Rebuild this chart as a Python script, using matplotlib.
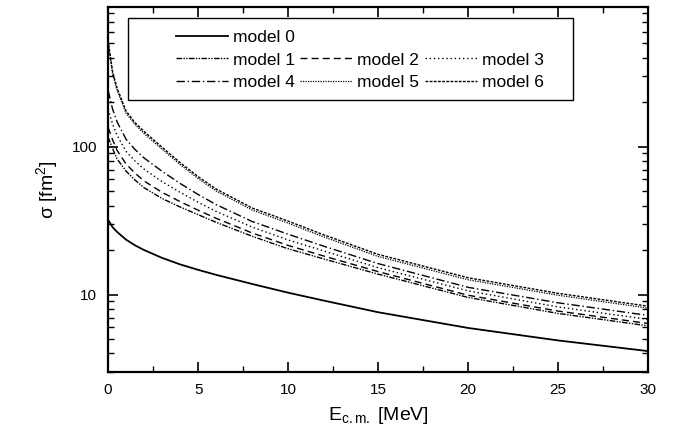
import numpy as np
import matplotlib
matplotlib.use("Agg")
import matplotlib.pyplot as plt
from matplotlib.lines import Line2D
from matplotlib.patches import Rectangle

plt.rcParams['font.family'] = ['Liberation Sans', 'DejaVu Sans']
plt.rcParams['mathtext.fontset'] = 'custom'
plt.rcParams['mathtext.rm'] = 'Liberation Sans'
plt.rcParams['mathtext.it'] = 'Liberation Sans:italic'

# energy grid (MeV)
energy = [0, 0.25, 0.5, 1, 1.5, 2, 3, 4, 5, 6, 8, 10, 12, 15, 20, 25, 30]

# cross sections (fm^2)
model0 = [32, 28.5, 26.5, 23.5, 21.5, 20, 17.7, 16.0, 14.7, 13.6, 11.8, 10.3, 9.1, 7.6, 5.95, 4.9, 4.15]
model1 = [116, 97, 82.5, 68.2, 59.4, 52.8, 44.6, 39.1, 34.7, 30.8, 24.8, 20.4, 17.4, 13.75, 9.57, 7.46, 6.15]
model2 = [135, 111, 94.2, 76.3, 66.1, 58.6, 49.1, 42.5, 37.2, 32.8, 26.1, 21.5, 18.2, 14.3, 9.9, 7.74, 6.38]
model3 = [179, 142, 119, 92.8, 79.8, 70.4, 58, 49.1, 42.1, 36.5, 28.6, 23.4, 19.7, 15.2, 10.6, 8.25, 6.8]
model4 = [240, 179, 147, 112, 95.5, 83.8, 68.1, 56.4, 47.5, 40.6, 31.2, 25.6, 21.2, 16.2, 11.2, 8.8, 7.23]
model5 = [505, 310, 240, 168, 141, 122.5, 96, 75.7, 60.8, 50.2, 37.3, 30.4, 24.5, 18.1, 12.6, 9.9, 8.1]
model6 = [520, 320, 248, 174, 145, 126.5, 99, 78, 62.7, 51.7, 38.5, 31.4, 25.3, 18.7, 13.0, 10.2, 8.35]

labels = ['model 0', 'model 1', 'model 2', 'model 3', 'model 4', 'model 5', 'model 6']
curves = [model0, model1, model2, model3, model4, model5, model6]
styles = ['-', (0, (4, 1, 1, 1, 1, 1)), (0, (5, 3)), (0, (1, 2)),
          (0, (6, 2, 1, 2)), (0, (1, 1)), (0, (2, 1))]
widths = [1.3, 1.0, 1.0, 1.0, 1.0, 0.9, 1.0]

fig = plt.figure(figsize=(6.8, 4.32), dpi=100)
ax = fig.add_axes([0.159, 0.139, 0.794, 0.845])

handles = []
for lab, y, ls, lw in zip(labels, curves, styles, widths):
    h, = ax.plot(energy, y, color='black', linestyle=ls, linewidth=lw, label=lab)
    handles.append(h)

ax.set_yscale('log')
ax.set_xlim(0, 30)
ax.set_ylim(3, 880)
ax.set_xticks([0, 5, 10, 15, 20, 25, 30])
ax.set_xticks(np.arange(2.5, 30, 5), minor=True)
ax.set_yticks([10, 100])
ax.set_yticklabels(['10', '100'])

ax.tick_params(which='both', direction='in', top=True, right=True, labelsize=11)
ax.tick_params(which='major', length=7, width=1.2, pad=8)
ax.tick_params(which='minor', length=4, width=1.0)
for sp in ax.spines.values():
    sp.set_linewidth(1.6)

ax.set_xlabel('E$_{\\mathrm{c.m.}}$ [MeV]', fontsize=14, labelpad=6)
ax.set_ylabel('σ [fm$^2$]', fontsize=14, labelpad=8)

# legend laid out as: row 1 model 0; row 2 models 1-3; row 3 models 4-6
blank = Line2D([], [], color='none')
leg_handles = [handles[0], handles[1], handles[4],
               blank, handles[2], handles[5],
               blank, handles[3], handles[6]]
leg_labels = [labels[0], labels[1], labels[4],
              '', labels[2], labels[5],
              '', labels[3], labels[6]]
leg = ax.legend(leg_handles, leg_labels, ncol=3, loc='upper left',
                bbox_to_anchor=(0.125, 0.936), fontsize=12.5, frameon=False,
                handlelength=3.0, handletextpad=0.3, columnspacing=0.3,
                labelspacing=0.4, borderpad=0, borderaxespad=0)
ax.add_patch(Rectangle((0.037, 0.745), 0.824, 0.225, transform=ax.transAxes,
                       facecolor='white', edgecolor='black', linewidth=1.0,
                       zorder=4))
leg.set_zorder(5)

fig.savefig('out.png', dpi=100)
